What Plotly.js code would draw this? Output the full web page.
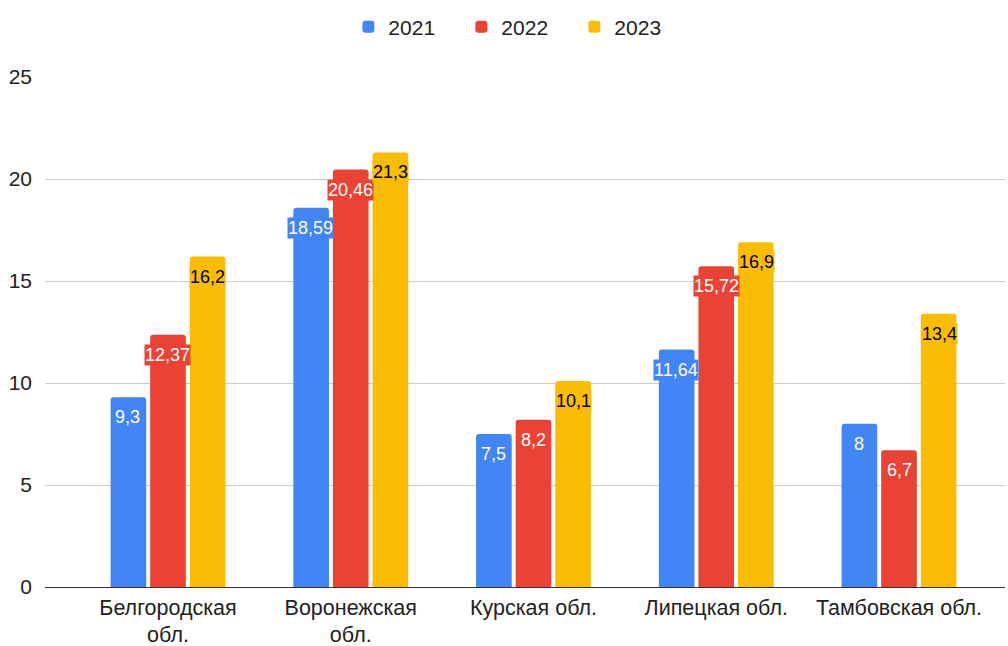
<!DOCTYPE html>
<html><head><meta charset="utf-8">
<script src="https://cdn.plot.ly/plotly-3.0.1.min.js"></script>
<style>html,body{margin:0;padding:0;background:#fff}</style>
</head><body>
<div id="chart" style="width:1008px;height:646px"></div>
<script>
const categories = ["Белгородская<br>обл.", "Воронежская<br>обл.", "Курская обл.", "Липецкая обл.", "Тамбовская обл."];
const seriesNames = ["2021", "2022", "2023"];
const values2021 = [9.3, 18.59, 7.5, 11.64, 8];
const values2022 = [12.37, 20.46, 8.2, 15.72, 6.7];
const values2023 = [16.2, 21.3, 10.1, 16.9, 13.4];
const yTicks = [0, 5, 10, 15, 20, 25];

const allValues = [values2021, values2022, values2023];
const colors = ["#4285F4", "#EA4335", "#FBBC04"];
const labelColors = ["#ffffff", "#ffffff", "#000000"];
const fmt = v => String(v).replace('.', ',');
const FONT = 'Arial, "Liberation Sans", sans-serif';

const traces = allValues.map((vals, i) => ({
  type: 'bar', name: seriesNames[i], x: categories, y: vals,
  marker: {color: colors[i], cornerradius: 3},
  hoverinfo: 'none'
}));

const annotations = [];
const offsets = [-40, 0, 40];
allValues.forEach((vals, i) => {
  vals.forEach((v, j) => {
    annotations.push({
      x: categories[j], y: v, xref: 'x', yref: 'y',
      text: fmt(v), showarrow: false,
      xshift: offsets[i], yshift: -20, yanchor: 'middle', xanchor: 'center',
      bgcolor: colors[i], borderpad: 0,
      font: {family: FONT, size: 18, color: labelColors[i]}
    });
  });
});

const layout = {
  width: 1008, height: 646,
  margin: {l: 45, r: 3, t: 77, b: 59},
  paper_bgcolor: '#fff', plot_bgcolor: '#fff',
  font: {family: FONT, size: 20, color: '#222'},
  barmode: 'group', bargap: 0.35, bargroupgap: 0.1,
  showlegend: true,
  legend: {orientation: 'h', x: 0.316, xanchor: 'left', y: 1.098, yanchor: 'middle',
           entrywidth: 68, entrywidthmode: 'pixels',
           font: {family: FONT, size: 21, color: '#222'},
           traceorder: 'normal'},
  xaxis: {type: 'category', range: [-0.673, 4.58], showgrid: false, zeroline: false,
          showline: false, ticks: '', ticklabelstandoff: 5,
          tickfont: {family: FONT, size: 21.5, color: '#222'}},
  yaxis: {range: [0, 25], tickvals: yTicks, ticktext: yTicks.map(String),
          showgrid: true, gridcolor: '#cccccc', gridwidth: 1,
          zeroline: true, zerolinecolor: '#333333', zerolinewidth: 1,
          showline: false, ticks: '', ticklabelstandoff: 12,
          tickfont: {family: FONT, size: 21, color: '#222'}},
  annotations: annotations
};

Plotly.newPlot('chart', traces, layout, {displayModeBar: false, staticPlot: true});
</script>
</body></html>
